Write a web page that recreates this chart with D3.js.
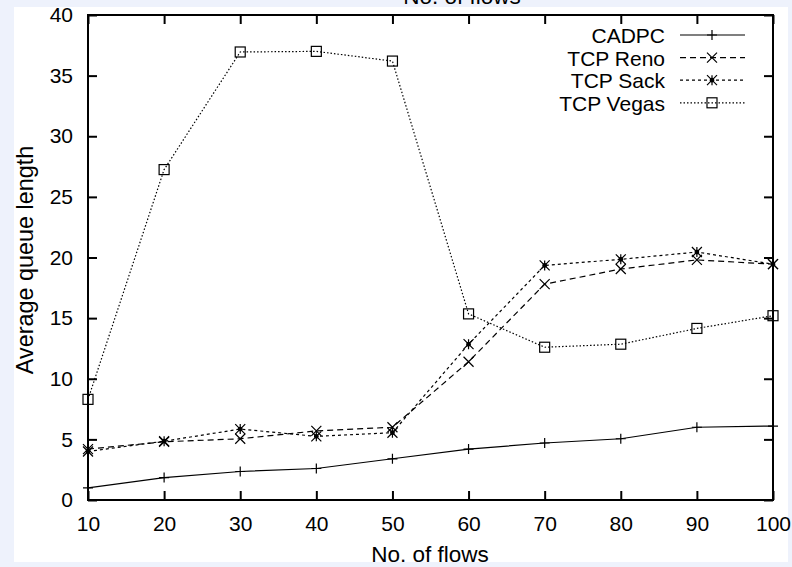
<!DOCTYPE html>
<html>
<head>
<meta charset="utf-8">
<script src="https://cdn.jsdelivr.net/npm/d3@7"></script>
<style>
body { margin: 0; background: #eef2fc; }
text { font-family: "Liberation Sans", Arial, sans-serif; fill: #000; }
</style>
</head>
<body>
<div id="main"></div>
<script>
// data
var flows = [10, 20, 30, 40, 50, 60, 70, 80, 90, 100];
var cadpc = [1.0, 1.85, 2.35, 2.6, 3.4, 4.2, 4.7, 5.05, 6.0, 6.1];
var reno  = [4.2, 4.8, 5.05, 5.7, 6.0, 11.4, 17.8, 19.05, 19.8, 19.45];
var sack  = [4.0, 4.85, 5.85, 5.25, 5.55, 12.85, 19.35, 19.85, 20.45, 19.45];
var vegas = [8.3, 27.25, 36.95, 37.0, 36.2, 15.35, 12.6, 12.85, 14.15, 15.2];
var yTicks = [0, 5, 10, 15, 20, 25, 30, 35, 40];

var series = [
	{name: "CADPC", values: cadpc, dash: null, marker: "plus"},
	{name: "TCP Reno", values: reno, dash: "6,4", marker: "cross"},
	{name: "TCP Sack", values: sack, dash: "3,3", marker: "star"},
	{name: "TCP Vegas", values: vegas, dash: "1.5,2", marker: "square"}
];

var w = 792,
	h = 567;

var margin = {left: 88, right: 19, top: 15, bottom: 67};

var x = d3.scaleLinear()
	.domain([10, 100])
	.range([margin.left, w - margin.right]);

var y = d3.scaleLinear()
	.domain([0, 40])
	.range([h - margin.bottom, margin.top]);

var svg = d3.select("#main")
	.append("svg")
	.attr("width", w)
	.attr("height", h);

// page frame
svg.append("rect")
	.attr("width", w).attr("height", h)
	.attr("fill", "#eef2fc");
svg.append("rect")
	.attr("x", 14).attr("y", 7)
	.attr("width", 774).attr("height", 555)
	.attr("fill", "#fff");

// axes with inward ticks, mirrored
var tick = 9;
svg.append("g")
	.attr("transform", "translate(0," + y(0) + ")")
	.call(d3.axisBottom(x).tickValues(flows).tickSize(-tick).tickPadding(tick + 7));
svg.append("g")
	.attr("transform", "translate(0," + y(40) + ")")
	.call(d3.axisTop(x).tickValues(flows).tickSize(-tick).tickFormat(""));
svg.append("g")
	.attr("transform", "translate(" + x(10) + ",0)")
	.call(d3.axisLeft(y).tickValues(yTicks).tickSize(-tick).tickPadding(tick + 6));
svg.append("g")
	.attr("transform", "translate(" + x(100) + ",0)")
	.call(d3.axisRight(y).tickValues(yTicks).tickSize(-tick).tickFormat(""));

svg.selectAll(".domain").remove();
svg.selectAll(".tick line").attr("stroke", "#000").attr("stroke-width", 2);
svg.selectAll(".tick text")
	.style("font-family", "Liberation Sans, Arial, sans-serif")
	.style("font-size", "21px")
	.attr("fill", "#000");

svg.append("rect")
	.attr("x", x(10)).attr("y", y(40))
	.attr("width", x(100) - x(10)).attr("height", y(0) - y(40))
	.attr("fill", "none")
	.attr("stroke", "#000")
	.attr("stroke-width", 2);

// titles
svg.append("text")
	.attr("x", 430).attr("y", 562)
	.attr("text-anchor", "middle")
	.style("font-size", "22.5px")
	.text("No. of flows");
svg.append("text")
	.attr("x", 462).attr("y", 4)
	.attr("text-anchor", "middle")
	.style("font-size", "22.5px")
	.text("No. of flows");
svg.append("text")
	.attr("transform", "translate(33," + y(19.8) + ") rotate(-90)")
	.attr("text-anchor", "middle")
	.style("font-size", "23.4px")
	.text("Average queue length");

// markers
function drawMarker(g, type, cx, cy) {
	var s = 5;
	if (type == "plus") {
		g.append("path").attr("d", "M" + (cx - s) + "," + cy + "H" + (cx + s) + "M" + cx + "," + (cy - s) + "V" + (cy + s));
	} else if (type == "cross") {
		g.append("path").attr("d", "M" + (cx - s) + "," + (cy - s) + "L" + (cx + s) + "," + (cy + s) + "M" + (cx - s) + "," + (cy + s) + "L" + (cx + s) + "," + (cy - s));
	} else if (type == "star") {
		g.append("path").attr("d", "M" + (cx - s) + "," + (cy - s) + "L" + (cx + s) + "," + (cy + s) + "M" + (cx - s) + "," + (cy + s) + "L" + (cx + s) + "," + (cy - s) +
			"M" + cx + "," + (cy - s) + "V" + (cy + s));
		g.append("circle").attr("cx", cx).attr("cy", cy).attr("r", 1.8).attr("fill", "#000");
	} else {
		g.append("rect").attr("x", cx - s).attr("y", cy - s).attr("width", 2 * s).attr("height", 2 * s).attr("fill", "none");
	}
}

var line = d3.line()
	.x(function(d, i) { return x(flows[i]); })
	.y(function(d) { return y(d); });

series.forEach(function(s, k) {
	var g = svg.append("g")
		.attr("stroke", "#000")
		.attr("stroke-width", 1.2)
		.attr("fill", "none");
	g.append("path")
		.attr("d", line(s.values))
		.attr("stroke-dasharray", s.dash);
	s.values.forEach(function(v, i) {
		drawMarker(g, s.marker, x(flows[i]), y(v));
	});

	// legend entry
	var ly = 35 + k * 22.6;
	svg.append("text")
		.attr("x", 665).attr("y", ly + 8)
		.attr("text-anchor", "end")
		.style("font-size", "21px")
		.text(s.name);
	var lg = svg.append("g")
		.attr("stroke", "#000")
		.attr("stroke-width", 1.2)
		.attr("fill", "none");
	lg.append("line")
		.attr("x1", 680).attr("x2", 745)
		.attr("y1", ly).attr("y2", ly)
		.attr("stroke-dasharray", s.dash);
	drawMarker(lg, s.marker, 712, ly);
});
</script>
</body>
</html>
